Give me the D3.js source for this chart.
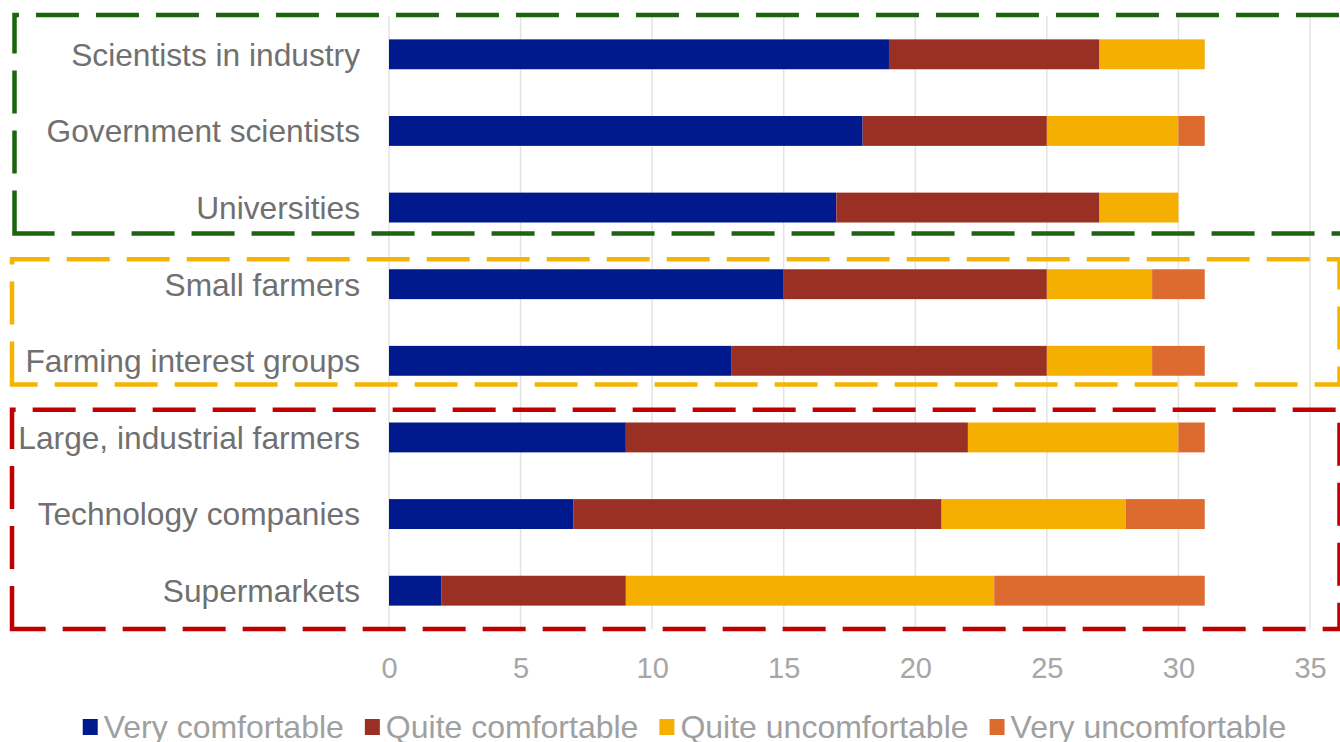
<!DOCTYPE html>
<html>
<head>
<meta charset="utf-8">
<script src="https://cdn.jsdelivr.net/npm/d3@7"></script>
<style>
  body { margin: 0; background: #fff; }
  svg { display: block; font-family: "Liberation Sans", Arial, sans-serif; }
</style>
</head>
<body>
<div id="chart"></div>
<script>
// data
const categories = ["Scientists in industry", "Government scientists", "Universities",
  "Small farmers", "Farming interest groups", "Large, industrial farmers",
  "Technology companies", "Supermarkets"];
const seriesNames = ["Very comfortable", "Quite comfortable", "Quite uncomfortable", "Very uncomfortable"];
const veryComfortable = [19, 18, 17, 15, 13, 9, 7, 2];
const quiteComfortable = [8, 7, 10, 10, 12, 13, 14, 7];
const quiteUncomfortable = [4, 5, 3, 4, 4, 8, 7, 14];
const veryUncomfortable = [0, 1, 0, 2, 2, 1, 3, 8];
const xTicks = [0, 5, 10, 15, 20, 25, 30, 35];

// groups drawn as dashed boxes: first and last category of each
const groupFirst = ["Scientists in industry", "Small farmers", "Large, industrial farmers"];
const groupLast = ["Universities", "Farming interest groups", "Supermarkets"];

const width = 1340;
const height = 742;
const margin = {top: 16, left: 389, right: 30, bottom: 113};

const colors = d3.scaleOrdinal()
  .domain(seriesNames)
  .range(["#001a8e", "#9a3024", "#f5af00", "#dd6b30"]);

const boxColors = ["#1e6410", "#f5b400", "#c00000"];
// box edges relative to the first band top / last band bottom
const boxTopOff = [-24.4, -10, -12.8];
const boxBottomOff = [11, 8.8, 23.4];
const boxLeft = [14.5, 12, 12];
const boxRight = [1346, 1339.5, 1339.5];

const table = categories.map((c, i) => ({
  name: c,
  "Very comfortable": veryComfortable[i],
  "Quite comfortable": quiteComfortable[i],
  "Quite uncomfortable": quiteUncomfortable[i],
  "Very uncomfortable": veryUncomfortable[i]
}));

const stacked = d3.stack().keys(seriesNames)(table);

const svg = d3.select("#chart")
  .append("svg")
  .attr("width", width)
  .attr("height", height);

const xScale = d3.scaleLinear()
  .domain([0, 35])
  .range([margin.left, 1310]);

const yScale = d3.scaleBand()
  .domain(categories)
  .range([margin.top, height - margin.bottom])
  .paddingInner(0.61)
  .paddingOuter(0.305);

/* gridlines */
svg.append("g")
  .selectAll("line")
  .data(xTicks)
  .enter()
  .append("line")
  .attr("x1", d => xScale(d))
  .attr("x2", d => xScale(d))
  .attr("y1", margin.top)
  .attr("y2", height - margin.bottom)
  .attr("stroke", "#e3e3e3")
  .attr("stroke-width", 1.5);

/* bars */
svg.append("g")
  .selectAll("g")
  .data(stacked)
  .enter()
  .append("g")
  .attr("fill", d => colors(d.key))
  .selectAll("rect")
  .data(d => d.filter(s => s[1] > s[0]))
  .enter()
  .append("rect")
  .attr("x", d => xScale(d[0]))
  .attr("y", d => yScale(d.data.name))
  .attr("width", d => xScale(d[1]) - xScale(d[0]))
  .attr("height", yScale.bandwidth());

/* category labels */
svg.append("g")
  .selectAll("text")
  .data(categories)
  .enter()
  .append("text")
  .attr("x", 360)
  .attr("y", d => yScale(d) + yScale.bandwidth() / 2)
  .attr("dy", "0.36em")
  .attr("text-anchor", "end")
  .attr("fill", "#707070")
  .style("font-size", "31.7px")
  .text(d => d);

/* x tick labels */
const xAxis = svg.append("g")
  .attr("transform", `translate(0,${height - margin.bottom})`)
  .call(d3.axisBottom(xScale).tickValues(xTicks).tickSize(0).tickPadding(28));
xAxis.select(".domain").remove();
xAxis.selectAll("text")
  .attr("fill", "#a6a6a6")
  .style("font-size", "29px")
  .style("font-family", "'Liberation Sans', Arial, sans-serif");

/* dashed group boxes */
groupFirst.forEach((first, i) => {
  const top = yScale(first) + boxTopOff[i];
  const bottom = yScale(groupLast[i]) + yScale.bandwidth() + boxBottomOff[i];
  const left = boxLeft[i];
  const right = boxRight[i];
  svg.append("path")
    .attr("d", `M${left},${bottom} L${left},${top} L${right},${top} L${right},${bottom} Z`)
    .attr("fill", "none")
    .attr("stroke", boxColors[i])
    .attr("stroke-width", 4.5)
    .attr("stroke-dasharray", "43 17");
});

/* legend */
const legend = svg.append("g");
let lx = 0;
seriesNames.forEach(name => {
  const item = legend.append("g").attr("transform", `translate(${lx},0)`);
  item.append("rect")
    .attr("x", 0)
    .attr("y", 719)
    .attr("width", 15)
    .attr("height", 16)
    .attr("fill", colors(name));
  const t = item.append("text")
    .attr("x", 21)
    .attr("y", 738)
    .attr("fill", "#a0a0a0")
    .style("font-size", "32px")
    .text(name);
  lx += 21 + t.node().getComputedTextLength() + 21;
});
legend.attr("transform", `translate(${(width - (lx - 21)) / 2 + 14.5},0)`);
</script>
</body>
</html>
